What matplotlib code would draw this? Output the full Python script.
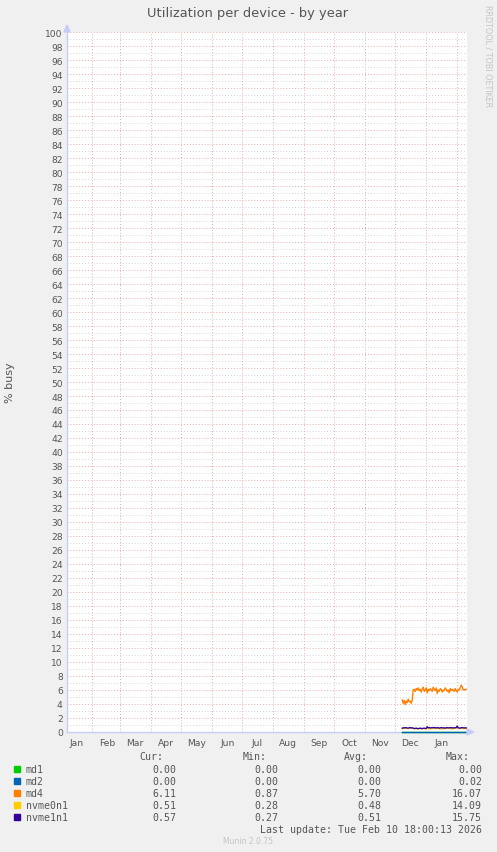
import matplotlib
matplotlib.use("Agg")
import matplotlib.pyplot as plt
import matplotlib.dates as mdates
import numpy as np
import pandas as pd
from matplotlib.patches import Rectangle, Polygon

# ---------------- data ----------------
start_date = "2025-12-08"
md4 = [4.6, 4.1, 4.5, 3.9, 4.4, 4.2, 4.7, 4.3, 4.4, 4.1, 4.6,
       6.0, 6.1, 5.8, 6.2, 6.0, 6.3, 5.9, 6.1, 5.7, 6.2,
       6.4, 5.8, 6.0, 6.3, 5.6, 6.1, 5.9, 6.2, 6.0, 5.8,
       6.4, 6.1, 5.9, 6.3, 5.5, 6.0, 5.8, 6.2, 6.1, 5.7,
       6.0, 5.9, 6.3, 6.1, 5.8, 6.0, 5.6, 6.2, 5.9, 6.1,
       6.0, 5.8, 6.2, 5.9, 5.7, 6.1, 6.0, 6.3, 6.7, 6.4,
       6.0, 6.1, 6.0, 6.1]
nvme1n1 = [0.55, 0.6, 0.58, 0.62, 0.6, 0.57, 0.55, 0.6, 0.62, 0.58, 0.6,
           0.55, 0.5, 0.52, 0.55, 0.5, 0.48, 0.52, 0.55, 0.5, 0.5, 0.53, 0.55, 0.5, 0.52,
           0.75, 0.6, 0.62, 0.58, 0.6, 0.62, 0.6, 0.65, 0.6, 0.58,
           0.62, 0.6, 0.55, 0.6, 0.62, 0.6, 0.58, 0.6, 0.55, 0.6,
           0.62, 0.58, 0.6, 0.62, 0.6, 0.6, 0.58, 0.6, 0.6, 0.62,
           0.85, 0.6, 0.55, 0.58, 0.6, 0.62, 0.6, 0.58, 0.6, 0.57]
nvme0n1 = [0.45, 0.5, 0.52, 0.55, 0.55, 0.52, 0.5, 0.55, 0.58, 0.55, 0.55,
           0.5, 0.45, 0.48, 0.5, 0.46, 0.44, 0.48, 0.5, 0.46, 0.46, 0.48, 0.5, 0.46, 0.48,
           0.6, 0.5, 0.45, 0.45, 0.5, 0.55, 0.5, 0.5, 0.48, 0.5,
           0.55, 0.5, 0.5, 0.45, 0.45, 0.42, 0.45, 0.5, 0.5, 0.55,
           0.55, 0.5, 0.55, 0.5, 0.45, 0.42, 0.45, 0.5, 0.55, 0.55,
           0.7, 0.55, 0.5, 0.5, 0.55, 0.55, 0.5, 0.48, 0.5, 0.51]
md1 = [0.0] * len(md4)
md2 = [0.0] * len(md4)

series_names = ["md1", "md2", "md4", "nvme0n1", "nvme1n1"]
series_colors = ["#00cc00", "#0066b3", "#ff8000", "#ffcc00", "#330099"]
cur_vals = ["0.00", "0.00", "6.11", "0.51", "0.57"]
min_vals = ["0.00", "0.00", "0.87", "0.28", "0.27"]
avg_vals = ["0.00", "0.00", "5.70", "0.48", "0.51"]
max_vals = ["0.00", "0.02", "16.07", "14.09", "15.75"]

month_labels = ["Jan", "Feb", "Mar", "Apr", "May", "Jun", "Jul", "Aug",
                "Sep", "Oct", "Nov", "Dec", "Jan"]
y_ticks = list(range(0, 101, 2))

title = "Utilization per device - by year"
ylabel = "% busy"
last_update = "Last update: Tue Feb 10 18:00:13 2026"

# ---------------- figure ----------------
W, H = 497, 853
fig = plt.figure(figsize=(W / 100, H / 100), dpi=100, facecolor="#f0f0f0")
L, R, T, B = 67, 467, 33, 733
ax = fig.add_axes([L / W, 1 - B / H, (R - L) / W, (B - T) / H])
ax.set_facecolor("white")

dates = pd.date_range(start_date, periods=len(md4), freq="D")
series = [md1, md2, md4, nvme0n1, nvme1n1]
for name, col, vals in zip(series_names, series_colors, series):
    ax.plot(dates, vals, color=col, lw=1.0, zorder=5, clip_on=False)

x0 = pd.Timestamp("2025-01-06 18:00")
x1 = pd.Timestamp("2026-02-10 18:00")
ax.set_xlim(x0, x1)
ax.set_ylim(0, 100)

# grid
grid_red = "#eaabab"
grid_gray = "#d6d6d6"
dot = (0, (1, 2))
for v in range(1, 101):
    if v % 2 == 0:
        ax.axhline(v, color=grid_red, lw=0.7, ls=dot, zorder=1)
    else:
        ax.axhline(v, color=grid_gray, lw=0.7, ls=dot, zorder=1)
month_starts = pd.date_range("2025-02-01", "2026-02-01", freq="MS")
for m in month_starts:
    ax.axvline(m, color=grid_red, lw=0.7, ls=dot, zorder=1)

# ticks
ax.set_yticks(y_ticks)
ax.set_yticklabels([str(v) for v in y_ticks])
mids = [pd.Timestamp(f"2025-{i:02d}-16") for i in range(1, 13)] + [pd.Timestamp("2026-01-16")]
ax.set_xticks(mids)
ax.set_xticklabels(month_labels)
ax.tick_params(axis="both", length=0, labelsize=6.6, colors="#555555", pad=3)
ax.tick_params(axis="x", pad=4)

for s in ["top", "right"]:
    ax.spines[s].set_visible(False)
axis_col = "#c8ccf8"
for s in ["left", "bottom"]:
    ax.spines[s].set_color(axis_col)
    ax.spines[s].set_linewidth(1.0)

# arrows
fx = lambda px: px / W
fy = lambda py: 1 - py / H
fig.patches.append(Polygon([[fx(467), fy(730)], [fx(474), fy(733)], [fx(467), fy(736)]],
                           closed=True, transform=fig.transFigure, color=axis_col, zorder=10))
fig.patches.append(Polygon([[fx(64), fy(33)], [fx(67), fy(26)], [fx(70), fy(33)]],
                           closed=True, transform=fig.transFigure, color=axis_col, zorder=10))

# texts
fig.text(fx(248), fy(13), title, ha="center", va="center", fontsize=9.4, color="#555555")
fig.text(fx(10), fy(383), ylabel, ha="center", va="center", rotation=90, fontsize=8.0, color="#555555")
fig.text(fx(488), fy(5), "RRDTOOL / TOBI OETIKER", ha="center", va="top", rotation=270,
         fontsize=5.8, color="#c4c4c4")

mono = "DejaVu Sans Mono"
fs = 7.1
tc = "#555555"
fig.text(fx(163), fy(757), "Cur:", ha="right", va="center", family=mono, fontsize=fs, color=tc)
fig.text(fx(267), fy(757), "Min:", ha="right", va="center", family=mono, fontsize=fs, color=tc)
fig.text(fx(368), fy(757), "Avg:", ha="right", va="center", family=mono, fontsize=fs, color=tc)
fig.text(fx(470), fy(757), "Max:", ha="right", va="center", family=mono, fontsize=fs, color=tc)
for i, (name, col) in enumerate(zip(series_names, series_colors)):
    yc = 770 + 12 * i
    fig.patches.append(Rectangle((fx(14), fy(yc + 3)), 6 / W, 6 / H, transform=fig.transFigure,
                                 color=col, zorder=10))
    fig.text(fx(26), fy(yc), name, ha="left", va="center", family=mono, fontsize=fs, color=tc)
    fig.text(fx(176), fy(yc), cur_vals[i], ha="right", va="center", family=mono, fontsize=fs, color=tc)
    fig.text(fx(278), fy(yc), min_vals[i], ha="right", va="center", family=mono, fontsize=fs, color=tc)
    fig.text(fx(381), fy(yc), avg_vals[i], ha="right", va="center", family=mono, fontsize=fs, color=tc)
    fig.text(fx(482), fy(yc), max_vals[i], ha="right", va="center", family=mono, fontsize=fs, color=tc)
fig.text(fx(482), fy(830), last_update, ha="right", va="center", family=mono, fontsize=fs, color=tc)
fig.text(fx(248), fy(842), "Munin 2.0.75", ha="center", va="center", fontsize=5.5, color="#c4c4c4")

fig.savefig("out.png", dpi=100, facecolor=fig.get_facecolor())
